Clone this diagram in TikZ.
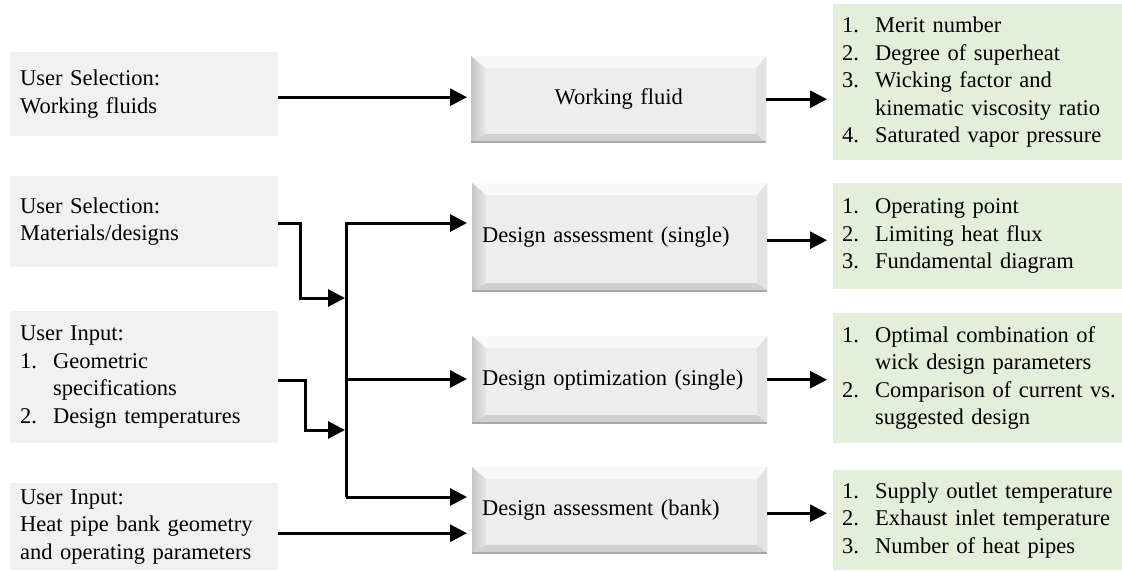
\documentclass[tikz,border=0pt]{standalone}
\usepackage{fontspec}
\setmainfont{Liberation Serif}
\usetikzlibrary{arrows.meta}
\definecolor{ingray}{HTML}{F1F1F1}
\definecolor{outgreen}{HTML}{E2EFDA}
\definecolor{faceC}{HTML}{EDEDED}
\definecolor{topC}{HTML}{F8F8F8}
\definecolor{leftA}{HTML}{C6C6C6}
\definecolor{leftB}{HTML}{E8E8E8}
\definecolor{rightC}{HTML}{E2E2E2}
\definecolor{botC}{HTML}{D0D0D0}
\definecolor{edgeC}{HTML}{A9A9A9}
\newcommand{\bodyfont}{\fontsize{22.5}{27.5}\selectfont}
\newcommand{\li}[2]{\mbox{\makebox[33pt][l]{#1}#2}}
\newcommand{\cont}[1]{\mbox{\hspace*{33pt}#1}}
\tikzset{
  inbox/.style={anchor=north west, fill=ingray, inner xsep=10pt, inner ysep=0pt,
    text width=248pt, align=left, font=\bodyfont},
  outbox/.style={anchor=north west, fill=outgreen, inner xsep=9pt, inner ysep=0pt,
    text width=271pt, align=left, font=\bodyfont},
  midbox/.style={anchor=north west, fill=faceC, inner xsep=10pt, inner ysep=0pt,
    text width=275pt, align=left, font=\bodyfont,
    path picture={
      \coordinate (nw) at (path picture bounding box.north west);
      \coordinate (ne) at (path picture bounding box.north east);
      \coordinate (sw) at (path picture bounding box.south west);
      \coordinate (se) at (path picture bounding box.south east);
      \fill[topC] (nw) -- (ne) -- ([xshift=-10pt,yshift=-12pt]ne) -- ([xshift=14pt,yshift=-12pt]nw) -- cycle;
      \shade[left color=leftA, right color=leftB] (nw) -- ([xshift=14pt,yshift=-12pt]nw) -- ([xshift=14pt,yshift=8pt]sw) -- (sw) -- cycle;
      \fill[rightC] (ne) -- (se) -- ([xshift=-10pt,yshift=8pt]se) -- ([xshift=-10pt,yshift=-12pt]ne) -- cycle;
      \fill[botC] (sw) -- ([xshift=14pt,yshift=8pt]sw) -- ([xshift=-10pt,yshift=8pt]se) -- (se) -- cycle;
      \draw[edgeC, line width=2pt] (sw) -- (se);
      \draw[edgeC!70, line width=1pt] (se) -- (ne);
    }},
  arr/.style={line width=3pt, -{Triangle[length=17pt,width=17pt]}}
}
\begin{document}
\begin{tikzpicture}[x=1pt,y=-1pt]
\useasboundingbox (0,0) rectangle (1122,571);

% left input boxes
\node[inbox, minimum height=84pt] (u1) at (10,52) {User Selection:\\Working fluids};
\node[inbox, minimum height=91pt] (u2) at (10,176) {User Selection:\\Materials/designs};
\node[inbox, minimum height=132pt] (u3) at (10,311) {User Input:\\\li{1.}{Geometric}\\\cont{specifications}\\\li{2.}{Design temperatures}};
\node[inbox, minimum height=87pt] (u4) at (10,483) {User Input:\\Heat pipe bank geometry\\and operating parameters};

% middle process boxes
\node[midbox, minimum height=86pt, align=center] (wf) at (471,56) {Working fluid};
\node[midbox, minimum height=108pt] (das) at (472,183) {Design assessment (single)};
\node[midbox, minimum height=87pt] (do) at (472,336) {Design optimization (single)};
\node[midbox, minimum height=86pt] (dab) at (472,467) {Design assessment (bank)};

% right output boxes
\node[outbox, minimum height=156pt] (o1) at (833,4) {\li{1.}{Merit number}\\\li{2.}{Degree of superheat}\\\li{3.}{Wicking factor and}\\\cont{kinematic viscosity ratio}\\\li{4.}{Saturated vapor pressure}};
\node[outbox, minimum height=106pt] (o2) at (833,183) {\li{1.}{Operating point}\\\li{2.}{Limiting heat flux}\\\li{3.}{Fundamental diagram}};
\node[outbox, minimum height=130pt] (o3) at (833,313) {\li{1.}{Optimal combination of}\\\cont{wick design parameters}\\\li{2.}{Comparison of current vs.}\\\cont{suggested design}};
\node[outbox, minimum height=100pt] (o4) at (833,470) {\li{1.}{Supply outlet temperature}\\\li{2.}{Exhaust inlet temperature}\\\li{3.}{Number of heat pipes}};

% bus coordinates
\coordinate (busTop) at (346,223);
\coordinate (busMid) at (346,379);
\coordinate (busBot) at (346,497);
\coordinate (bus2) at (345,298);
\coordinate (bus3) at (345,430);

% connectors
\draw[arr, shorten >=4pt] ([yshift=-3pt]u1.east) -- ([yshift=-3pt]u1.east -| wf.west);
\draw[arr] ([yshift=-1.5pt]u2.east) -- ++(22,0) |- (bus2);
\draw[arr] ([yshift=-3pt]u3.east) -- ++(27,0) |- (bus3);
\draw[arr, shorten >=5pt] (busBot) -- (busTop) -- (busTop -| das.west);
\draw[arr, shorten >=5pt] (busMid) -- (busMid -| do.west);
\draw[arr, shorten >=5pt] (busBot) -- (busBot -| dab.west);
\draw[arr, shorten >=5pt] ([yshift=-6.5pt]u4.east) -- ([yshift=-6.5pt]u4.east -| dab.west);

\draw[arr, shorten >=6pt] (wf.east) -- (wf.east -| o1.west);
\draw[arr, shorten >=6pt] ([yshift=-3pt]das.east) -- ([yshift=-3pt]das.east -| o2.west);
\draw[arr, shorten >=6pt] (do.east) -- (do.east -| o3.west);
\draw[arr, shorten >=6pt] ([yshift=-3pt]dab.east) -- ([yshift=-3pt]dab.east -| o4.west);
\end{tikzpicture}
\end{document}
